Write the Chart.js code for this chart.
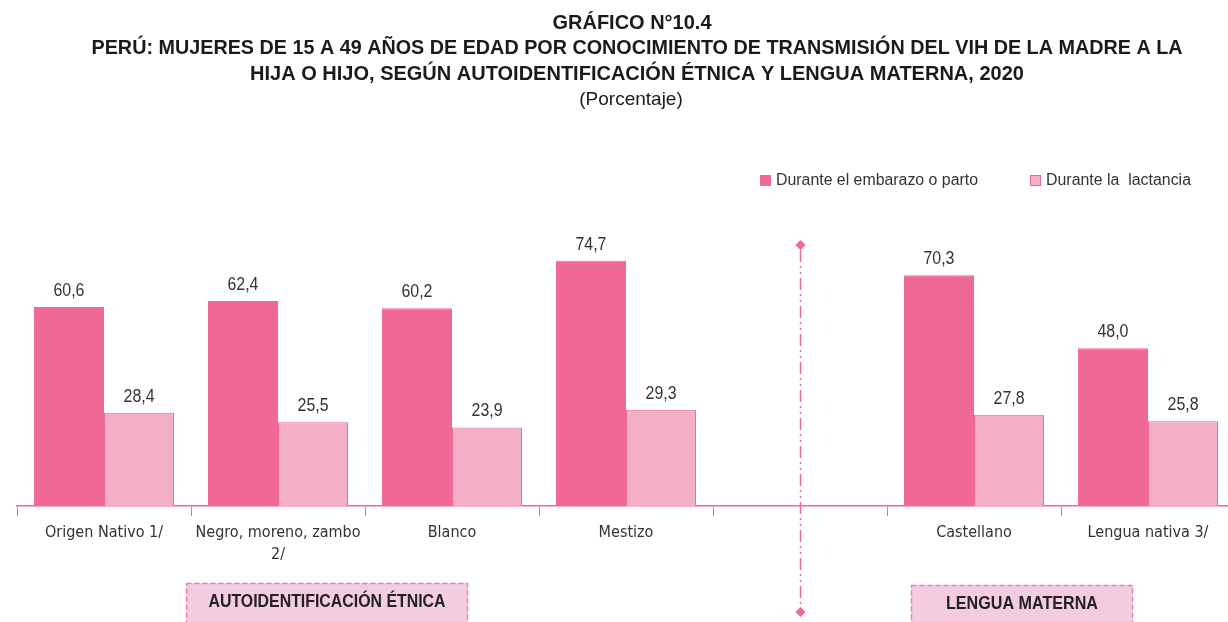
<!DOCTYPE html>
<html>
<head>
<meta charset="utf-8">
<script src="https://cdn.jsdelivr.net/npm/chart.js@4"></script>
<style>
  html, body { margin: 0; padding: 0; background: #fff; overflow: hidden; }
  #wrap { width: 1228px; height: 622px; overflow: hidden; position: relative; }
  #wrap canvas { position: absolute; left: 0; top: 0; }
</style>
</head>
<body>
<div id="wrap"><canvas id="vihChart" width="1240" height="622"></canvas></div>
<script>
// datos del gráfico
const categories = ['Origen Nativo 1/', ['Negro, moreno, zambo', '2/'], 'Blanco', 'Mestizo', '', 'Castellano', 'Lengua nativa 3/'];
const embarazo = [60.6, 62.4, 60.2, 74.7, null, 70.3, 48.0];
const lactancia = [28.4, 25.5, 23.9, 29.3, null, 27.8, 25.8];
const seriesNames = ['Durante el embarazo o parto', 'Durante la  lactancia'];

const DARK = '#F06898';
const LIGHT = '#F4AFC8';
const SANS = "'Liberation Sans', Arial, sans-serif";
const NARROW = "'Liberation Sans Narrow', 'Arial Narrow', 'DejaVu Sans Condensed', sans-serif";

const fmt = v => v.toFixed(1).replace('.', ',');

const extras = {
    id: 'extras',
    afterDraw(chart) {
        const ctx = chart.ctx;
        ctx.save();

        // titulo (texto comprimido con maxWidth para imitar fuente estrecha)
        ctx.fillStyle = '#1a1a1a';
        ctx.textAlign = 'center';
        ctx.textBaseline = 'middle';
        ctx.font = 'bold 20px ' + SANS;
        ctx.fillText('GRÁFICO N°10.4', 632, 23, 159);
        ctx.fillText('PERÚ: MUJERES DE 15 A 49 AÑOS DE EDAD POR CONOCIMIENTO DE TRANSMISIÓN DEL VIH DE LA MADRE A LA', 637, 48, 1091);
        ctx.fillText('HIJA O HIJO, SEGÚN AUTOIDENTIFICACIÓN ÉTNICA Y LENGUA MATERNA, 2020', 637, 74, 775);
        ctx.font = '19px ' + SANS;
        ctx.fillText('(Porcentaje)', 631, 100, 109);

        // leyenda
        ctx.font = '16px ' + SANS;
        ctx.textAlign = 'left';
        const legendItems = [
            { x: 760, fill: DARK, w: 202 },
            { x: 1030, fill: LIGHT, w: 145 }
        ];
        legendItems.forEach((it, i) => {
            ctx.fillStyle = it.fill;
            ctx.fillRect(it.x, 175, 11, 11);
            ctx.strokeStyle = DARK;
            ctx.lineWidth = 1;
            ctx.strokeRect(it.x + 0.5, 175.5, 10, 10);
            ctx.fillStyle = '#333';
            ctx.fillText(seriesNames[i], it.x + 16, 181, it.w);
        });

        // etiquetas de datos
        ctx.textAlign = 'center';
        ctx.textBaseline = 'middle';
        ctx.fillStyle = '#333';
        ctx.font = '18px ' + SANS;
        chart.data.datasets.forEach((ds, di) => {
            chart.getDatasetMeta(di).data.forEach((bar, i) => {
                const v = ds.data[i];
                if (v == null) return;
                ctx.fillText(fmt(v), bar.x, bar.y - 16, 31);
            });
        });

        // divisor vertical
        const xs = chart.scales.x;
        const dx = Math.round(xs.getPixelForValue(4)) + 0.5;
        ctx.strokeStyle = DARK;
        ctx.lineWidth = 1.5;
        ctx.setLineDash([12, 4, 2, 4, 2, 4]);
        ctx.beginPath();
        ctx.moveTo(dx, 250);
        ctx.lineTo(dx, 608);
        ctx.stroke();
        ctx.setLineDash([]);
        ctx.fillStyle = DARK;
        [245, 612].forEach(y => {
            ctx.beginPath();
            ctx.moveTo(dx, y - 5);
            ctx.lineTo(dx + 5, y);
            ctx.lineTo(dx, y + 5);
            ctx.lineTo(dx - 5, y);
            ctx.closePath();
            ctx.fill();
        });

        // recuadros de grupo
        const boxes = [
            { x: 186, y: 583, w: 282, text: 'AUTOIDENTIFICACIÓN ÉTNICA', tw: 237 },
            { x: 911, y: 585, w: 222, text: 'LENGUA MATERNA', tw: 152 }
        ];
        boxes.forEach(b => {
            ctx.fillStyle = '#F4CCE0';
            ctx.fillRect(b.x, b.y, b.w, 60);
            ctx.strokeStyle = '#F07AAA';
            ctx.lineWidth = 1.5;
            ctx.setLineDash([5, 3]);
            ctx.strokeRect(b.x + 0.5, b.y + 0.5, b.w - 1, 60);
            ctx.setLineDash([]);
            ctx.fillStyle = '#222';
            ctx.font = 'bold 18px ' + SANS;
            ctx.textBaseline = 'middle';
            ctx.fillText(b.text, b.x + b.w / 2, b.y + 19, b.tw);
        });

        ctx.restore();
    }
};

const vihctx = document.getElementById('vihChart').getContext('2d');
const vihChart = new Chart(vihctx, {
    type: 'bar',
    data: {
        labels: categories,
        datasets: [{
            label: seriesNames[0],
            data: embarazo,
            backgroundColor: DARK,
            borderColor: DARK,
            borderWidth: 1
        }, {
            label: seriesNames[1],
            data: lactancia,
            backgroundColor: LIGHT,
            borderColor: DARK,
            borderWidth: 1
        }]
    },
    options: {
        responsive: false,
        animation: false,
        categoryPercentage: 0.805,
        barPercentage: 1,
        layout: {
            padding: { top: 217, left: 17, right: 5, bottom: 0 }
        },
        plugins: {
            legend: { display: false },
            title: { display: false },
            tooltip: { enabled: false }
        },
        scales: {
            x: {
                offset: true,
                afterFit: scale => { scale.height = 116; },
                border: { color: DARK, width: 1.5 },
                grid: {
                    offset: true,
                    drawOnChartArea: false,
                    drawTicks: true,
                    tickLength: 10,
                    color: DARK,
                    lineWidth: 1
                },
                ticks: {
                    color: '#333',
                    padding: 6,
                    maxRotation: 0,
                    autoSkip: false,
                    font: { family: NARROW, size: 16, lineHeight: 1.375 }
                }
            },
            y: {
                display: false,
                min: 0,
                max: 88
            }
        }
    },
    plugins: [extras]
});
</script>
</body>
</html>
